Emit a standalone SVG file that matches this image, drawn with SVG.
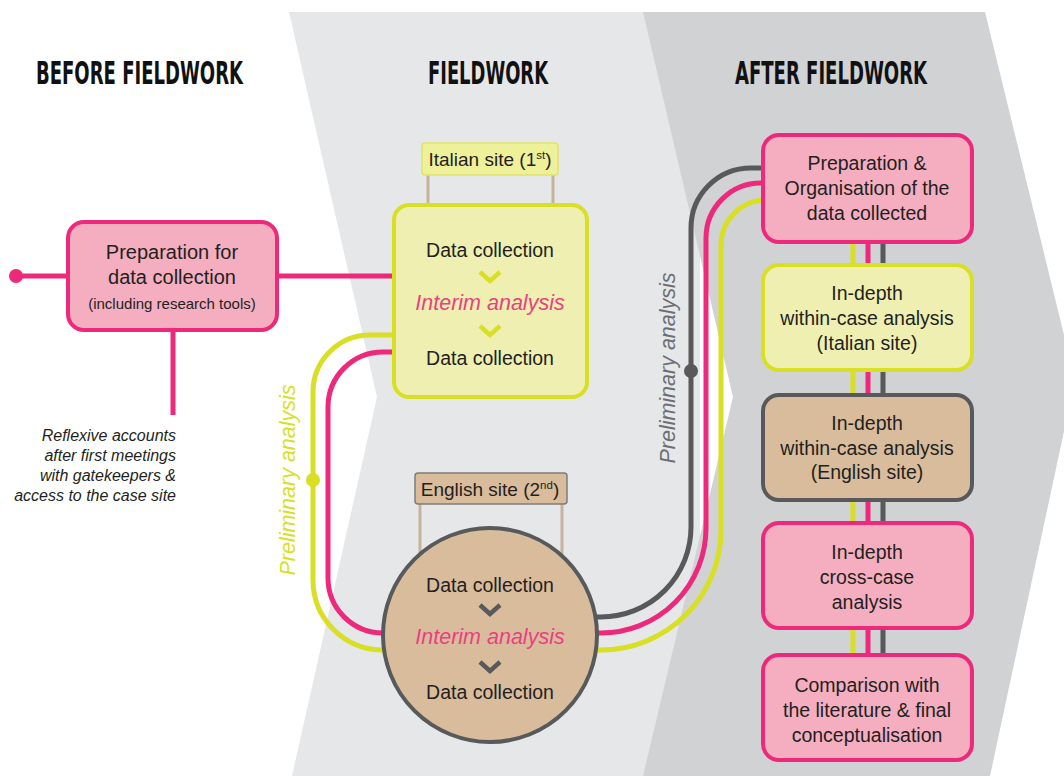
<svg xmlns="http://www.w3.org/2000/svg" width="1064" height="776" viewBox="0 0 1064 776">
<style>
.hd{font-family:"DejaVu Sans Condensed","Liberation Sans",sans-serif;font-weight:bold;font-size:32px;fill:#111;}
.t{font-family:"Liberation Sans","Helvetica",sans-serif;font-size:19.5px;fill:#231f20;text-anchor:middle;}
.it{font-family:"Liberation Sans",sans-serif;font-style:italic;font-size:21.5px;fill:#ea3f80;text-anchor:middle;}
.pink{fill:#f5aec0;stroke:#ec297b;stroke-width:4;}
.yel{fill:#eeefb1;stroke:#d8df24;stroke-width:4;}
.tan{fill:#d9bc9c;stroke:#58595b;stroke-width:4;}
.ln{fill:none;stroke-width:5;}
.y{stroke:#d8df24;}
.p{stroke:#ec297b;}
.g{stroke:#58595b;}
.post{stroke:#c4b59a;stroke-width:3;}
.chev{fill:none;stroke-width:4.5;stroke-linecap:butt;}
.pre{font-family:"Liberation Sans",sans-serif;font-style:italic;font-size:21.5px;text-anchor:middle;}
.lbl{font-family:"Liberation Sans",sans-serif;font-size:19px;fill:#231f20;text-anchor:middle;}
.sup{font-size:11.5px;}
</style>
<rect width="1064" height="776" fill="#ffffff"/>
<g id="bands">
<polygon points="289,12 700,12 700,776 292,776 377,397" fill="#e6e7e8"/>
<polygon points="643,12 985,12 1075,380 990,776 643,776 733,397" fill="#d1d2d4"/>
</g>
<g id="headings">
<text class="hd" x="36" y="84" textLength="207" lengthAdjust="spacingAndGlyphs">BEFORE FIELDWORK</text>
<text class="hd" x="428" y="84" textLength="120" lengthAdjust="spacingAndGlyphs">FIELDWORK</text>
<text class="hd" x="735" y="84" textLength="192" lengthAdjust="spacingAndGlyphs">AFTER FIELDWORK</text>
</g>
<g id="connectors">
<line class="ln p" x1="16" y1="276" x2="70" y2="276"/>
<circle cx="16" cy="276" r="7" fill="#ec297b"/>
<line class="ln p" x1="276" y1="276" x2="396" y2="276"/>
<line class="ln p" x1="173" y1="330" x2="173" y2="415"/>
<path class="ln y" d="M400,335 H370 A57,57 0 0 0 313,392 V580 A70,70 0 0 0 383,650 H420"/>
<path class="ln p" d="M400,352 H383 A55,55 0 0 0 328,407 V578 A55,55 0 0 0 383,633 H420"/>
<circle cx="313" cy="480" r="7" fill="#d8df24"/>
<path class="ln g" d="M560,617 H601 A90,90 0 0 0 691,527 V228 A60,60 0 0 1 751,168 H775"/>
<path class="ln p" d="M560,633 H601 A105,105 0 0 0 706,528 V238 A55,55 0 0 1 761,183 H775"/>
<path class="ln y" d="M560,650 H601 A120,120 0 0 0 721,530 V245 A45,45 0 0 1 766,200 H775"/>
<circle cx="691" cy="371" r="7" fill="#58595b"/>
<line class="ln y" x1="853" y1="240" x2="853" y2="658"/>
<line class="ln p" x1="868" y1="240" x2="868" y2="658"/>
<line class="ln g" x1="883" y1="240" x2="883" y2="658"/>
<line class="post" x1="428" y1="175" x2="428" y2="207"/>
<line class="post" x1="553" y1="175" x2="553" y2="207"/>
<line class="post" x1="420" y1="504" x2="420" y2="560"/>
<line class="post" x1="562" y1="504" x2="562" y2="560"/>
</g>
<g id="label-prelim-left">
<text class="pre" x="0" y="0" transform="translate(295,480) rotate(-90)" fill="#d8df24">Preliminary analysis</text>
</g>
<g id="label-prelim-right">
<text class="pre" x="0" y="0" transform="translate(675,368) rotate(-90)" fill="#6d6e71">Preliminary analysis</text>
</g>
<g id="prep">
<rect class="pink" x="68" y="222" width="209" height="108" rx="16"/>
<text class="t" x="172" y="259" style="font-size:20px">Preparation for</text>
<text class="t" x="172" y="284" style="font-size:20px">data collection</text>
<text class="t" x="172" y="309" style="font-size:15px">(including research tools)</text>
</g>
<g id="reflexive">
<g font-family="Liberation Sans, sans-serif" font-style="italic" font-size="16" fill="#231f20" text-anchor="end">
<text x="176" y="441">Reflexive accounts</text>
<text x="176" y="461">after first meetings</text>
<text x="176" y="481">with gatekeepers &amp;</text>
<text x="176" y="501">access to the case site</text>
</g>
</g>
<g id="italian-label">
<rect x="422" y="143" width="136" height="32" rx="3" fill="#eff19a" stroke="#dfe46a" stroke-width="1.5"/>
<text class="lbl" x="490" y="166">Italian site (1<tspan class="sup" dy="-7">st</tspan><tspan dy="7">)</tspan></text>
</g>
<g id="italian">
<rect class="yel" x="394" y="205" width="193" height="192" rx="15"/>
<text class="t" x="490" y="257">Data collection</text>
<polyline class="chev y" points="480,272 490,281 500,272"/>
<text class="it" x="490" y="310">Interim analysis</text>
<polyline class="chev y" points="480,326 490,335 500,326"/>
<text class="t" x="490" y="365">Data collection</text>
</g>
<g id="english-label">
<rect x="415" y="473" width="152" height="31" rx="3" fill="#d9bc9c" stroke="#7d7d7d" stroke-width="1.5"/>
<text class="lbl" x="490" y="496">English site (2<tspan class="sup" dy="-7">nd</tspan><tspan dy="7">)</tspan></text>
</g>
<g id="english">
<circle cx="490" cy="635" r="107" fill="#d9bc9c" stroke="#58595b" stroke-width="4"/>
<text class="t" x="490" y="592">Data collection</text>
<polyline class="chev g" points="480,605 490,614 500,605"/>
<text class="it" x="490" y="644">Interim analysis</text>
<polyline class="chev g" points="480,662 490,671 500,662"/>
<text class="t" x="490" y="699">Data collection</text>
</g>
<g id="after1">
<rect class="pink" x="763" y="135" width="209" height="107" rx="16"/>
<text class="t" x="867" y="170">Preparation &amp;</text>
<text class="t" x="867" y="195">Organisation of the</text>
<text class="t" x="867" y="220">data collected</text>
</g>
<g id="after2">
<rect class="yel" x="763" y="265" width="209" height="105" rx="16"/>
<text class="t" x="867" y="300">In-depth</text>
<text class="t" x="867" y="325">within-case analysis</text>
<text class="t" x="867" y="350">(Italian site)</text>
</g>
<g id="after3">
<rect class="tan" x="763" y="395" width="209" height="105" rx="16"/>
<text class="t" x="867" y="430">In-depth</text>
<text class="t" x="867" y="455">within-case analysis</text>
<text class="t" x="867" y="479">(English site)</text>
</g>
<g id="after4">
<rect class="pink" x="763" y="523" width="209" height="105" rx="16"/>
<text class="t" x="867" y="559">In-depth</text>
<text class="t" x="867" y="584">cross-case</text>
<text class="t" x="867" y="609">analysis</text>
</g>
<g id="after5">
<rect class="pink" x="763" y="655" width="209" height="105" rx="16"/>
<text class="t" x="867" y="692">Comparison with</text>
<text class="t" x="867" y="717">the literature &amp; final</text>
<text class="t" x="867" y="742">conceptualisation</text>
</g>
</svg>
